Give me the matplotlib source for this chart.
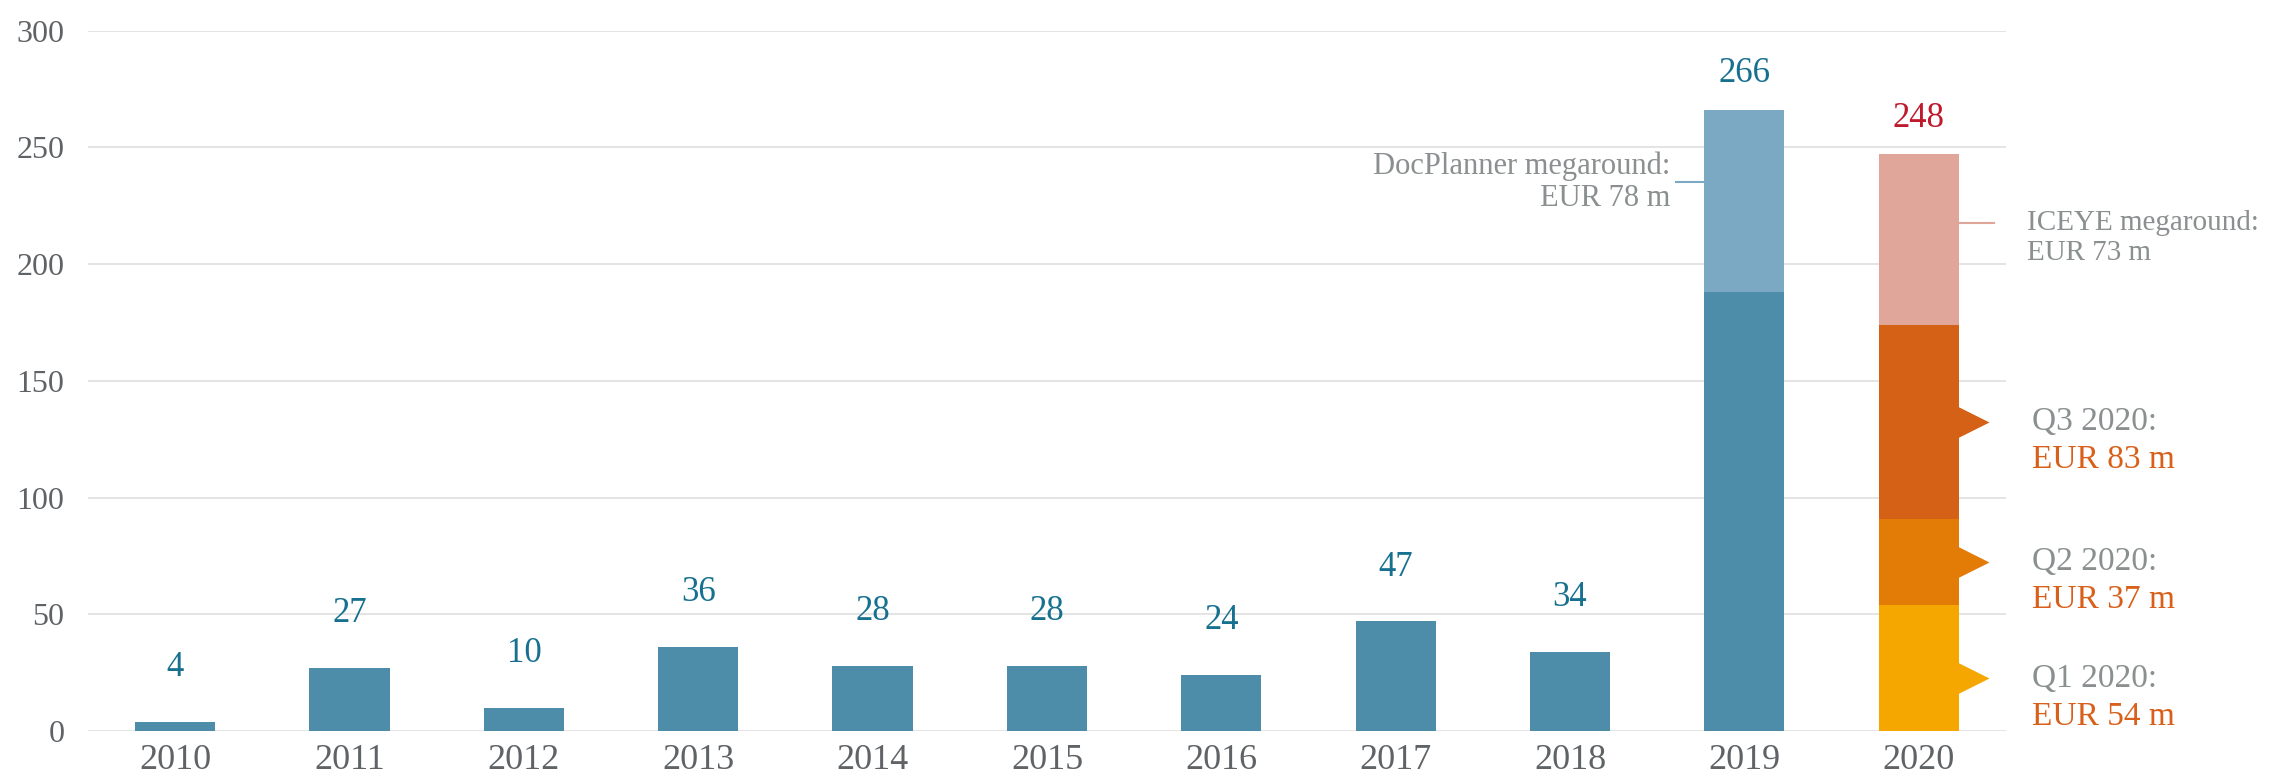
import matplotlib.pyplot as plt
from matplotlib.transforms import offset_copy

plt.rcParams['font.family'] = ['Liberation Serif', 'DejaVu Serif']

# Data (EUR m)
years = ['2010', '2011', '2012', '2013', '2014', '2015', '2016', '2017', '2018', '2019', '2020']
base_values = [4, 27, 10, 36, 28, 28, 24, 47, 34, 188, 0]
docplanner_2019 = 78
quarters_2020 = [54, 37, 83]
quarter_labels = ['Q1 2020:', 'Q2 2020:', 'Q3 2020:']
iceye_2020 = 73
totals = [4, 27, 10, 36, 28, 28, 24, 47, 34, 266, 248]

# Colours
blue = '#4e8daa'
blue_light = '#7ba8c2'
q_colors = ['#f5a700', '#e37b07', '#d46115']
iceye_color = '#e0a699'
value_blue = '#17708f'
value_red = '#be1a2c'
grey_txt = '#8a8f90'
tick_grey = '#5f6366'
orange_txt = '#d9601a'

fig = plt.figure(figsize=(22.74, 7.77), dpi=100)
ax = fig.add_axes([0.0387, 0.0592, 0.8434, 0.9015])

x = list(range(len(years)))
w = 0.46
i19 = years.index('2019')
i20 = years.index('2020')

# base bars (2010-2019)
ax.bar(x[:i20], base_values[:i20], width=w, color=blue, zorder=3)
# 2019 DocPlanner megaround on top
ax.bar(x[i19], docplanner_2019, bottom=base_values[i19], width=w, color=blue_light, zorder=3)

# 2020 quarters stacked
bottom = 0
mids = []
for val, col in zip(quarters_2020, q_colors):
    ax.bar(x[i20], val, bottom=bottom, width=w, color=col, zorder=3)
    mids.append(bottom + val / 2)
    bottom += val
ax.bar(x[i20], iceye_2020, bottom=bottom, width=w, color=iceye_color, zorder=3)
iceye_mid = bottom + iceye_2020 / 2
top20 = bottom + iceye_2020

# value labels above bars
for xi, tot in zip(x, totals):
    col = value_red if xi == i20 else value_blue
    off = 26 if xi >= i19 else 39
    anchor = top20 if xi == i20 else tot
    ax.annotate(str(tot), (xi, anchor), xytext=(0, off), textcoords='offset points',
                ha='center', va='center', fontsize=25, color=col)

# quarter markers and labels
right20 = x[i20] + w / 2
tri_tr = offset_copy(ax.transData, fig=fig, x=10.5, y=0, units='points')
for k, (m, lab, val, col) in enumerate(zip(mids, quarter_labels, quarters_2020, q_colors)):
    yk = m - 4.5 if k == 0 else m
    ax.plot(right20, yk, marker='>', ms=23, color=col, mec='none',
            transform=tri_tr, clip_on=False, zorder=4)
    ax.annotate(lab, (right20 + 0.42, yk), xytext=(0, 0), textcoords='offset points',
                ha='left', va='center', fontsize=24, color=grey_txt, annotation_clip=False)
    ax.annotate(f'EUR {val} m', (right20 + 0.42, yk), xytext=(0, -27.5),
                textcoords='offset points', ha='left', va='center', fontsize=24,
                color=orange_txt, annotation_clip=False)

# DocPlanner annotation
left19 = x[i19] - w / 2
doc_y = base_values[i19] + docplanner_2019 / 2 + 8
ax.plot([left19 - 0.16, left19], [doc_y, doc_y], color=blue_light, lw=1.5, zorder=2)
ax.annotate('DocPlanner megaround:', (left19 - 0.195, doc_y), xytext=(0, 11.5),
            textcoords='offset points', ha='right', va='center', fontsize=22, color=grey_txt)
ax.annotate(f'EUR {docplanner_2019} m', (left19 - 0.195, doc_y), xytext=(0, -11.5),
            textcoords='offset points', ha='right', va='center', fontsize=22, color=grey_txt)

# ICEYE annotation
ice_y = iceye_mid + 7
ax.plot([right20, right20 + 0.2], [ice_y, ice_y], color=iceye_color, lw=1.5,
        clip_on=False, zorder=2)
ax.annotate('ICEYE megaround:', (right20 + 0.39, ice_y), xytext=(0, 0),
            textcoords='offset points', ha='left', va='center', fontsize=21,
            color=grey_txt, annotation_clip=False)
ax.annotate(f'EUR {iceye_2020} m', (right20 + 0.39, ice_y), xytext=(0, -21.5),
            textcoords='offset points', ha='left', va='center', fontsize=21,
            color=grey_txt, annotation_clip=False)

# axes styling
ax.set_xlim(-0.5, 10.5)
ax.set_ylim(0, 300)
ax.set_yticks(range(0, 301, 50))
ax.set_xticks(x)
ax.set_xticklabels(years)
ax.grid(axis='y', color='#e2e2e2', lw=1.3, zorder=0)
ax.set_axisbelow(True)
for s in ax.spines.values():
    s.set_visible(False)
ax.tick_params(axis='both', length=0, colors=tick_grey)
ax.tick_params(axis='x', pad=9, labelsize=26)
ax.tick_params(axis='y', pad=17, labelsize=23)

fig.savefig('out.png', dpi=100)
